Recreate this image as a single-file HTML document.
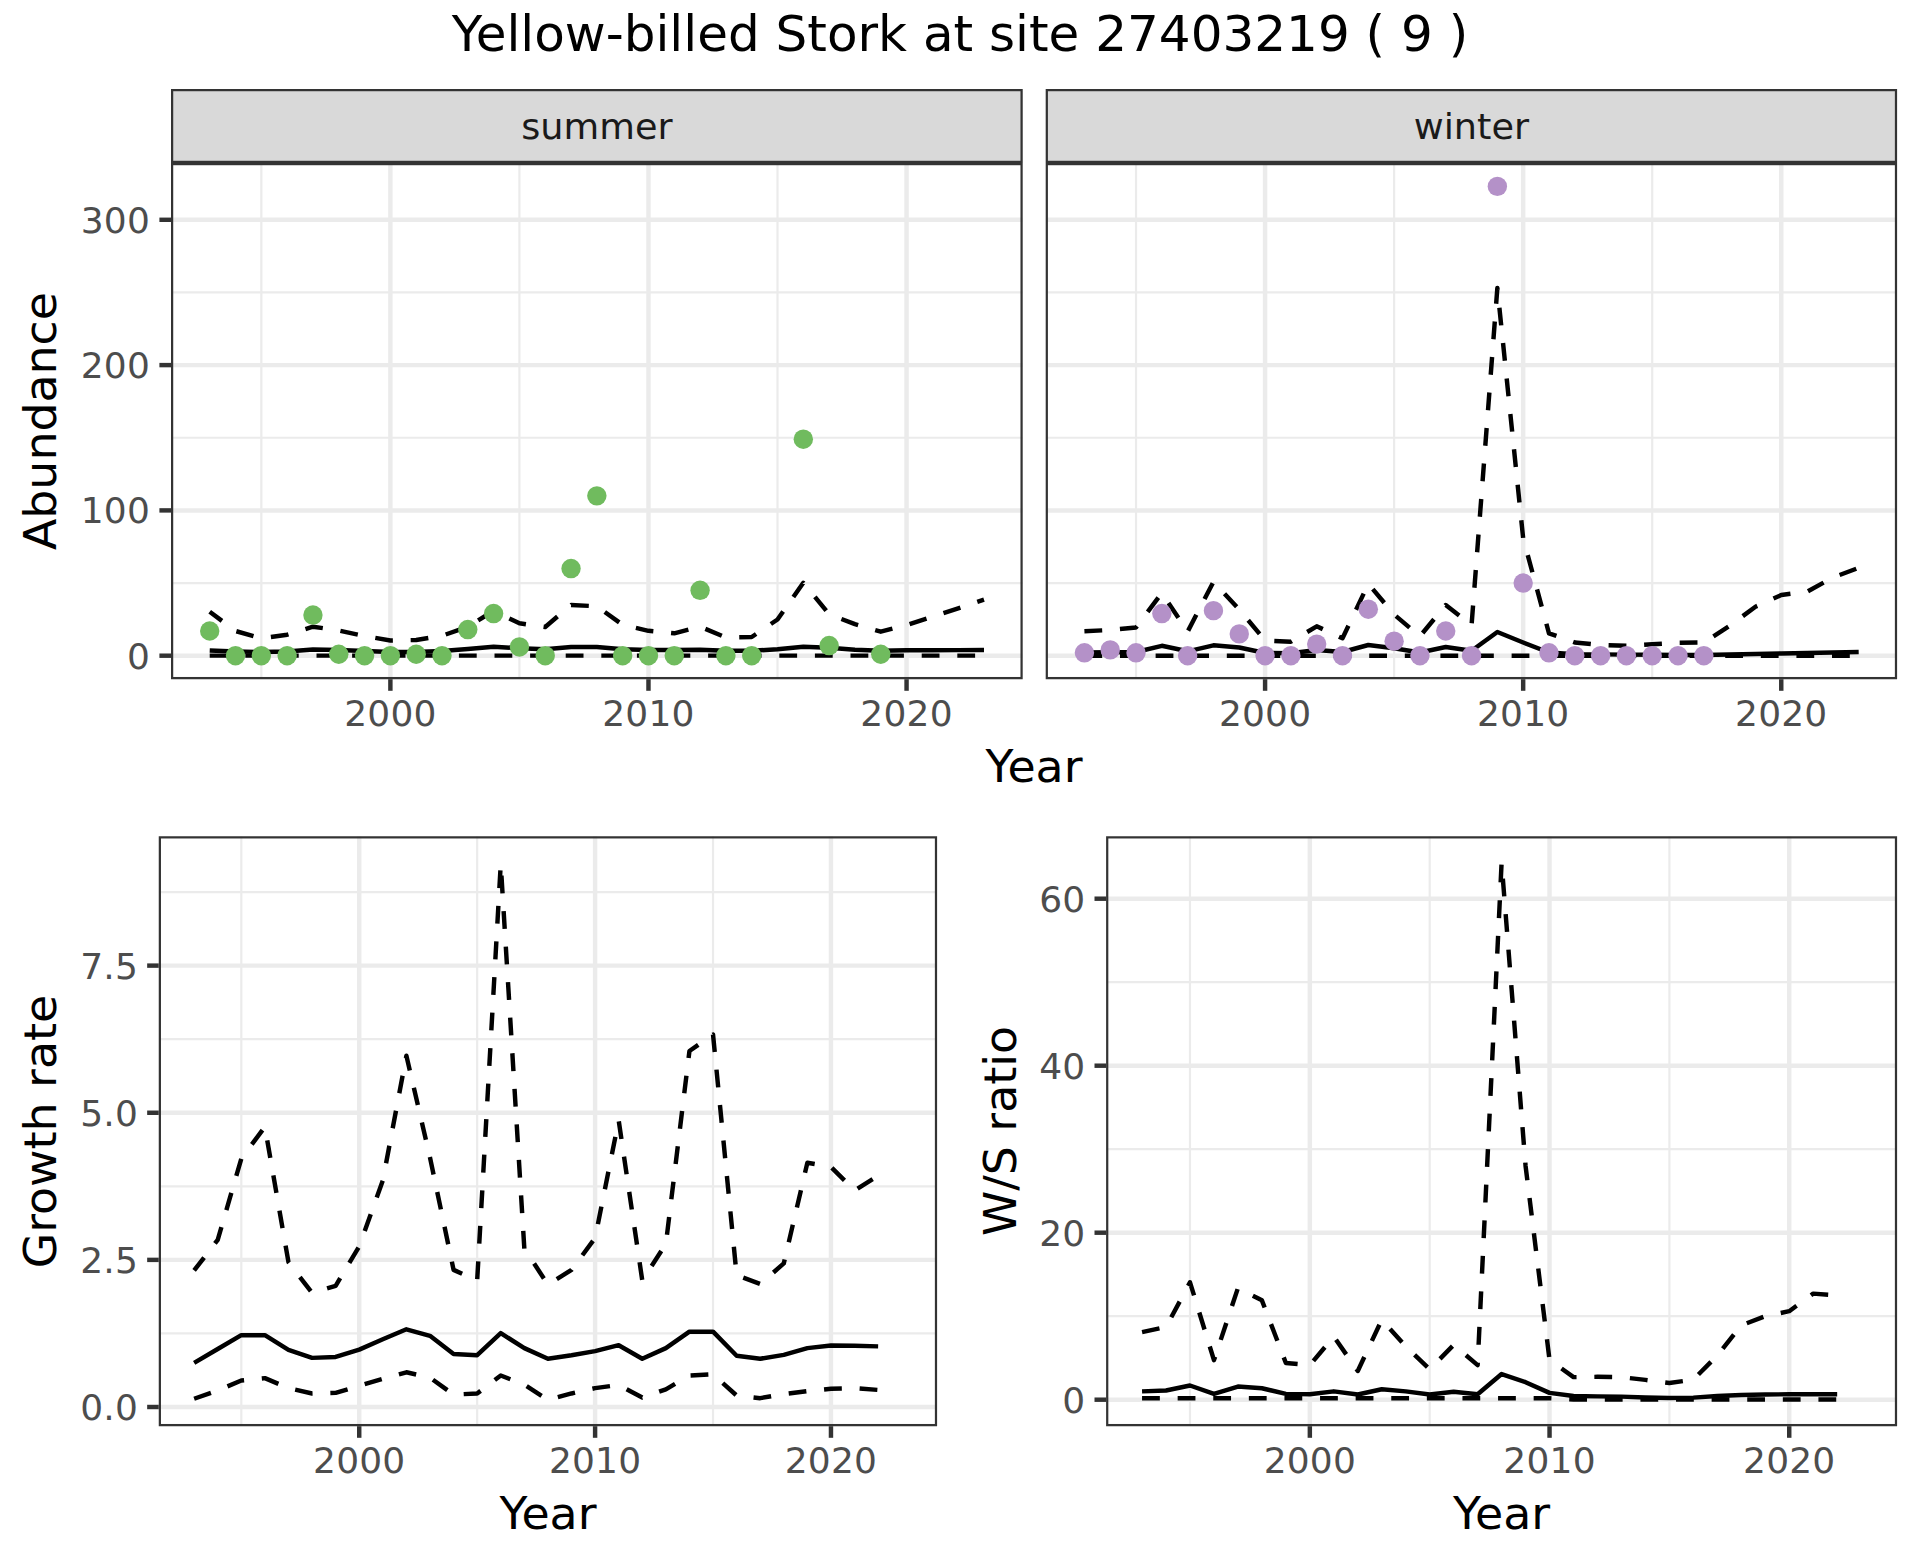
<!DOCTYPE html>
<html lang="en">
<head>
<meta charset="utf-8">
<title>Yellow-billed Stork at site 27403219</title>
<style>
html,body{margin:0;padding:0;background:#fff;}
body{width:1920px;height:1560px;overflow:hidden;}
svg{display:block;}
</style>
</head>
<body>
<svg width="1920" height="1560" viewBox="0 0 1920 1560" font-family='"DejaVu Sans", "Liberation Sans", sans-serif'>
<rect width="1920" height="1560" fill="#fff"/>
<text x="960" y="50.9" font-size="50.0" fill="#000" text-anchor="middle">Yellow-billed Stork at site 27403219 ( 9 )</text>
<clipPath id="c1"><rect x="171" y="163" width="851.7" height="516.2"/></clipPath>
<g clip-path="url(#c1)">
<rect x="171" y="163" width="851.7" height="516.2" fill="#fff"/>
<line x1="171" x2="1022.7" y1="583.05" y2="583.05" stroke="#EBEBEB" stroke-width="2.2"/>
<line x1="171" x2="1022.7" y1="437.75" y2="437.75" stroke="#EBEBEB" stroke-width="2.2"/>
<line x1="171" x2="1022.7" y1="292.45" y2="292.45" stroke="#EBEBEB" stroke-width="2.2"/>
<line x1="261.33" x2="261.33" y1="163" y2="679.2" stroke="#EBEBEB" stroke-width="2.2"/>
<line x1="519.42" x2="519.42" y1="163" y2="679.2" stroke="#EBEBEB" stroke-width="2.2"/>
<line x1="777.51" x2="777.51" y1="163" y2="679.2" stroke="#EBEBEB" stroke-width="2.2"/>
<line x1="171" x2="1022.7" y1="655.7" y2="655.7" stroke="#EBEBEB" stroke-width="4.45"/>
<line x1="171" x2="1022.7" y1="510.4" y2="510.4" stroke="#EBEBEB" stroke-width="4.45"/>
<line x1="171" x2="1022.7" y1="365.1" y2="365.1" stroke="#EBEBEB" stroke-width="4.45"/>
<line x1="171" x2="1022.7" y1="219.8" y2="219.8" stroke="#EBEBEB" stroke-width="4.45"/>
<line x1="390.38" x2="390.38" y1="163" y2="679.2" stroke="#EBEBEB" stroke-width="4.45"/>
<line x1="648.47" x2="648.47" y1="163" y2="679.2" stroke="#EBEBEB" stroke-width="4.45"/>
<line x1="906.56" x2="906.56" y1="163" y2="679.2" stroke="#EBEBEB" stroke-width="4.45"/>
<path d="M209.71 650.5 L235.52 651.5 L261.33 652 L287.14 651.5 L312.95 649.5 L338.76 650 L364.57 651 L390.38 652 L416.19 652 L442 651 L467.8 649 L493.61 646.7 L519.42 648.3 L545.23 649.2 L571.04 647 L596.85 647 L622.66 649.2 L648.47 650 L674.28 650 L700.09 649.7 L725.9 650.8 L751.7 650.8 L777.51 649.2 L803.32 646.7 L829.13 647.8 L854.94 649.7 L880.75 650.8 L906.56 650.3 L932.37 650.2 L958.18 650.1 L983.99 650" fill="none" stroke="#000" stroke-width="4.45" stroke-linejoin="round" stroke-linecap="butt"/><path d="M209.71 655.6 L235.52 655.6 L261.33 655.6 L287.14 655.6 L312.95 655.6 L338.76 655.6 L364.57 655.6 L390.38 655.6 L416.19 655.6 L442 655.6 L467.8 655.6 L493.61 655.6 L519.42 655.6 L545.23 655.6 L571.04 655.6 L596.85 655.6 L622.66 655.6 L648.47 655.6 L674.28 655.6 L700.09 655.6 L725.9 655.6 L751.7 655.6 L777.51 655.6 L803.32 655.6 L829.13 655.6 L854.94 655.6 L880.75 655.6 L906.56 655.6 L932.37 655.6 L958.18 655.6 L983.99 655.6" fill="none" stroke="#000" stroke-width="4.45" stroke-linejoin="round" stroke-linecap="butt" stroke-dasharray="17.8 17.8" stroke-dashoffset="0"/><path d="M209.71 611.7 L235.52 631 L261.33 638.3 L287.14 634.7 L312.95 626.7 L338.76 630.5 L364.57 636 L390.38 640.5 L416.19 640 L442 635.8 L467.8 626.7 L493.61 610.8 L519.42 623.3 L545.23 627 L571.04 605 L596.85 606.3 L622.66 624.8 L648.47 630.8 L674.28 633.3 L700.09 626.7 L725.9 637.5 L751.7 637 L777.51 619.5 L803.32 582.8 L829.13 614.3 L854.94 624.2 L880.75 631.7 L906.56 625 L932.37 616.7 L958.18 608.3 L983.99 599.7" fill="none" stroke="#000" stroke-width="4.45" stroke-linejoin="round" stroke-linecap="butt" stroke-dasharray="17.8 17.8" stroke-dashoffset="2.5"/><circle cx="209.71" cy="631" r="9.7" fill="#70BB5E"/><circle cx="235.52" cy="655.7" r="9.7" fill="#70BB5E"/><circle cx="261.33" cy="655.7" r="9.7" fill="#70BB5E"/><circle cx="287.14" cy="655.7" r="9.7" fill="#70BB5E"/><circle cx="312.95" cy="615.02" r="9.7" fill="#70BB5E"/><circle cx="338.76" cy="654.25" r="9.7" fill="#70BB5E"/><circle cx="364.57" cy="655.7" r="9.7" fill="#70BB5E"/><circle cx="390.38" cy="655.7" r="9.7" fill="#70BB5E"/><circle cx="416.19" cy="654.25" r="9.7" fill="#70BB5E"/><circle cx="442" cy="655.7" r="9.7" fill="#70BB5E"/><circle cx="467.8" cy="629.55" r="9.7" fill="#70BB5E"/><circle cx="493.61" cy="613.56" r="9.7" fill="#70BB5E"/><circle cx="519.42" cy="646.98" r="9.7" fill="#70BB5E"/><circle cx="545.23" cy="655.7" r="9.7" fill="#70BB5E"/><circle cx="571.04" cy="568.52" r="9.7" fill="#70BB5E"/><circle cx="596.85" cy="495.87" r="9.7" fill="#70BB5E"/><circle cx="622.66" cy="655.7" r="9.7" fill="#70BB5E"/><circle cx="648.47" cy="655.7" r="9.7" fill="#70BB5E"/><circle cx="674.28" cy="655.7" r="9.7" fill="#70BB5E"/><circle cx="700.09" cy="590.32" r="9.7" fill="#70BB5E"/><circle cx="725.9" cy="655.7" r="9.7" fill="#70BB5E"/><circle cx="751.7" cy="655.7" r="9.7" fill="#70BB5E"/><circle cx="803.32" cy="439.2" r="9.7" fill="#70BB5E"/><circle cx="829.13" cy="645.53" r="9.7" fill="#70BB5E"/><circle cx="880.75" cy="654.25" r="9.7" fill="#70BB5E"/>
<rect x="171" y="163" width="851.7" height="516.2" fill="none" stroke="#333333" stroke-width="4.45"/>
</g>
<clipPath id="c2"><rect x="171" y="89" width="851.7" height="74"/></clipPath>
<g clip-path="url(#c2)">
<rect x="171" y="89" width="851.7" height="74" fill="#D9D9D9" stroke="#333333" stroke-width="4.45"/>
</g>
<text transform="translate(596.85 138.9) scale(1 0.955)" font-size="36.67" fill="#1A1A1A" text-anchor="middle">summer</text>
<clipPath id="c3"><rect x="1045.7" y="163" width="851.4" height="516.2"/></clipPath>
<g clip-path="url(#c3)">
<rect x="1045.7" y="163" width="851.4" height="516.2" fill="#fff"/>
<line x1="1045.7" x2="1897.1" y1="583.05" y2="583.05" stroke="#EBEBEB" stroke-width="2.2"/>
<line x1="1045.7" x2="1897.1" y1="437.75" y2="437.75" stroke="#EBEBEB" stroke-width="2.2"/>
<line x1="1045.7" x2="1897.1" y1="292.45" y2="292.45" stroke="#EBEBEB" stroke-width="2.2"/>
<line x1="1136.03" x2="1136.03" y1="163" y2="679.2" stroke="#EBEBEB" stroke-width="2.2"/>
<line x1="1394.12" x2="1394.12" y1="163" y2="679.2" stroke="#EBEBEB" stroke-width="2.2"/>
<line x1="1652.21" x2="1652.21" y1="163" y2="679.2" stroke="#EBEBEB" stroke-width="2.2"/>
<line x1="1045.7" x2="1897.1" y1="655.7" y2="655.7" stroke="#EBEBEB" stroke-width="4.45"/>
<line x1="1045.7" x2="1897.1" y1="510.4" y2="510.4" stroke="#EBEBEB" stroke-width="4.45"/>
<line x1="1045.7" x2="1897.1" y1="365.1" y2="365.1" stroke="#EBEBEB" stroke-width="4.45"/>
<line x1="1045.7" x2="1897.1" y1="219.8" y2="219.8" stroke="#EBEBEB" stroke-width="4.45"/>
<line x1="1265.08" x2="1265.08" y1="163" y2="679.2" stroke="#EBEBEB" stroke-width="4.45"/>
<line x1="1523.17" x2="1523.17" y1="163" y2="679.2" stroke="#EBEBEB" stroke-width="4.45"/>
<line x1="1781.26" x2="1781.26" y1="163" y2="679.2" stroke="#EBEBEB" stroke-width="4.45"/>
<path d="M1084.41 652.5 L1110.22 652.2 L1136.03 652 L1161.84 645.8 L1187.65 651.3 L1213.46 645.3 L1239.27 647.5 L1265.08 653 L1290.89 653.3 L1316.7 650 L1342.5 652 L1368.31 645 L1394.12 648.3 L1419.93 652.5 L1445.74 647 L1471.55 650.8 L1497.36 632 L1523.17 642.5 L1548.98 652.5 L1574.79 654.2 L1600.6 654.4 L1626.4 654.6 L1652.21 654.8 L1678.02 655 L1703.83 655 L1729.64 654.5 L1755.45 654 L1781.26 653.5 L1807.07 653 L1832.88 652.5 L1858.69 652" fill="none" stroke="#000" stroke-width="4.45" stroke-linejoin="round" stroke-linecap="butt"/><path d="M1084.41 655.8 L1110.22 655.8 L1136.03 655.8 L1161.84 655.8 L1187.65 655.8 L1213.46 655.8 L1239.27 655.8 L1265.08 655.8 L1290.89 655.8 L1316.7 655.8 L1342.5 655.8 L1368.31 655.8 L1394.12 655.8 L1419.93 655.8 L1445.74 655.8 L1471.55 655.8 L1497.36 655.8 L1523.17 655.8 L1548.98 655.8 L1574.79 655.8 L1600.6 655.8 L1626.4 655.8 L1652.21 655.8 L1678.02 655.8 L1703.83 655.8 L1729.64 655.8 L1755.45 655.8 L1781.26 655.8 L1807.07 655.8 L1832.88 655.8 L1858.69 655.8" fill="none" stroke="#000" stroke-width="4.45" stroke-linejoin="round" stroke-linecap="butt" stroke-dasharray="17.8 17.8" stroke-dashoffset="0"/><path d="M1084.41 631.2 L1110.22 630 L1136.03 627.5 L1161.84 593 L1187.65 631.6 L1213.46 581.8 L1239.27 609.5 L1265.08 640.5 L1290.89 641.7 L1316.7 626.3 L1342.5 638.3 L1368.31 583.8 L1394.12 614.5 L1419.93 636.3 L1445.74 605 L1471.55 625.3 L1497.36 288 L1523.17 538.3 L1548.98 633.3 L1574.79 642.5 L1600.6 645 L1626.4 645.8 L1652.21 644.2 L1678.02 642.8 L1703.83 642.5 L1729.64 625.8 L1755.45 606.7 L1781.26 595 L1807.07 591.7 L1832.88 577.5 L1858.69 567.8" fill="none" stroke="#000" stroke-width="4.45" stroke-linejoin="round" stroke-linecap="butt" stroke-dasharray="17.8 17.8" stroke-dashoffset="0"/><circle cx="1084.41" cy="652.79" r="9.7" fill="#B491C8"/><circle cx="1110.22" cy="649.89" r="9.7" fill="#B491C8"/><circle cx="1136.03" cy="652.79" r="9.7" fill="#B491C8"/><circle cx="1161.84" cy="613.56" r="9.7" fill="#B491C8"/><circle cx="1187.65" cy="655.7" r="9.7" fill="#B491C8"/><circle cx="1213.46" cy="610.66" r="9.7" fill="#B491C8"/><circle cx="1239.27" cy="633.91" r="9.7" fill="#B491C8"/><circle cx="1265.08" cy="655.7" r="9.7" fill="#B491C8"/><circle cx="1290.89" cy="655.7" r="9.7" fill="#B491C8"/><circle cx="1316.7" cy="644.08" r="9.7" fill="#B491C8"/><circle cx="1342.5" cy="655.7" r="9.7" fill="#B491C8"/><circle cx="1368.31" cy="609.2" r="9.7" fill="#B491C8"/><circle cx="1394.12" cy="641.17" r="9.7" fill="#B491C8"/><circle cx="1419.93" cy="655.7" r="9.7" fill="#B491C8"/><circle cx="1445.74" cy="631" r="9.7" fill="#B491C8"/><circle cx="1471.55" cy="655.7" r="9.7" fill="#B491C8"/><circle cx="1497.36" cy="186.38" r="9.7" fill="#B491C8"/><circle cx="1523.17" cy="583.05" r="9.7" fill="#B491C8"/><circle cx="1548.98" cy="652.79" r="9.7" fill="#B491C8"/><circle cx="1574.79" cy="655.7" r="9.7" fill="#B491C8"/><circle cx="1600.6" cy="655.7" r="9.7" fill="#B491C8"/><circle cx="1626.4" cy="655.7" r="9.7" fill="#B491C8"/><circle cx="1652.21" cy="655.7" r="9.7" fill="#B491C8"/><circle cx="1678.02" cy="655.7" r="9.7" fill="#B491C8"/><circle cx="1703.83" cy="655.7" r="9.7" fill="#B491C8"/>
<rect x="1045.7" y="163" width="851.4" height="516.2" fill="none" stroke="#333333" stroke-width="4.45"/>
</g>
<clipPath id="c4"><rect x="1045.7" y="89" width="851.4" height="74"/></clipPath>
<g clip-path="url(#c4)">
<rect x="1045.7" y="89" width="851.4" height="74" fill="#D9D9D9" stroke="#333333" stroke-width="4.45"/>
</g>
<text transform="translate(1471.4 138.9) scale(1 0.955)" font-size="36.67" fill="#1A1A1A" text-anchor="middle">winter</text>
<line x1="390.38" x2="390.38" y1="679.2" y2="690.8" stroke="#333333" stroke-width="4.45"/>
<text transform="translate(390.38 725.7) scale(1 0.965)" font-size="36.0" letter-spacing="0.2" fill="#4D4D4D" text-anchor="middle">2000</text>
<line x1="648.47" x2="648.47" y1="679.2" y2="690.8" stroke="#333333" stroke-width="4.45"/>
<text transform="translate(648.47 725.7) scale(1 0.965)" font-size="36.0" letter-spacing="0.2" fill="#4D4D4D" text-anchor="middle">2010</text>
<line x1="906.56" x2="906.56" y1="679.2" y2="690.8" stroke="#333333" stroke-width="4.45"/>
<text transform="translate(906.56 725.7) scale(1 0.965)" font-size="36.0" letter-spacing="0.2" fill="#4D4D4D" text-anchor="middle">2020</text>
<line x1="1265.08" x2="1265.08" y1="679.2" y2="690.8" stroke="#333333" stroke-width="4.45"/>
<text transform="translate(1265.08 725.7) scale(1 0.965)" font-size="36.0" letter-spacing="0.2" fill="#4D4D4D" text-anchor="middle">2000</text>
<line x1="1523.17" x2="1523.17" y1="679.2" y2="690.8" stroke="#333333" stroke-width="4.45"/>
<text transform="translate(1523.17 725.7) scale(1 0.965)" font-size="36.0" letter-spacing="0.2" fill="#4D4D4D" text-anchor="middle">2010</text>
<line x1="1781.26" x2="1781.26" y1="679.2" y2="690.8" stroke="#333333" stroke-width="4.45"/>
<text transform="translate(1781.26 725.7) scale(1 0.965)" font-size="36.0" letter-spacing="0.2" fill="#4D4D4D" text-anchor="middle">2020</text>
<line x1="159.4" x2="171" y1="655.7" y2="655.7" stroke="#333333" stroke-width="4.45"/>
<text transform="translate(150 668.7) scale(1 0.965)" font-size="36.0" letter-spacing="0.2" fill="#4D4D4D" text-anchor="end">0</text>
<line x1="159.4" x2="171" y1="510.4" y2="510.4" stroke="#333333" stroke-width="4.45"/>
<text transform="translate(150 522.7) scale(1 0.965)" font-size="36.0" letter-spacing="0.2" fill="#4D4D4D" text-anchor="end">100</text>
<line x1="159.4" x2="171" y1="365.1" y2="365.1" stroke="#333333" stroke-width="4.45"/>
<text transform="translate(150 377.7) scale(1 0.965)" font-size="36.0" letter-spacing="0.2" fill="#4D4D4D" text-anchor="end">200</text>
<line x1="159.4" x2="171" y1="219.8" y2="219.8" stroke="#333333" stroke-width="4.45"/>
<text transform="translate(150 232.7) scale(1 0.965)" font-size="36.0" letter-spacing="0.2" fill="#4D4D4D" text-anchor="end">300</text>
<text transform="translate(1034 782) scale(1 0.975)" font-size="45.83" fill="#000" text-anchor="middle">Year</text>
<text transform="translate(55.7 421.05) rotate(-90) scale(1 0.975)" font-size="45.83" fill="#000" text-anchor="middle">Abundance</text>
<clipPath id="c5"><rect x="158.75" y="836.25" width="778.35" height="589.95"/></clipPath>
<g clip-path="url(#c5)">
<rect x="158.75" y="836.25" width="778.35" height="589.95" fill="#fff"/>
<line x1="158.75" x2="937.1" y1="1333.44" y2="1333.44" stroke="#EBEBEB" stroke-width="2.2"/>
<line x1="158.75" x2="937.1" y1="1186.31" y2="1186.31" stroke="#EBEBEB" stroke-width="2.2"/>
<line x1="158.75" x2="937.1" y1="1039.19" y2="1039.19" stroke="#EBEBEB" stroke-width="2.2"/>
<line x1="158.75" x2="937.1" y1="892.06" y2="892.06" stroke="#EBEBEB" stroke-width="2.2"/>
<line x1="241.3" x2="241.3" y1="836.25" y2="1426.2" stroke="#EBEBEB" stroke-width="2.2"/>
<line x1="477.17" x2="477.17" y1="836.25" y2="1426.2" stroke="#EBEBEB" stroke-width="2.2"/>
<line x1="713.03" x2="713.03" y1="836.25" y2="1426.2" stroke="#EBEBEB" stroke-width="2.2"/>
<line x1="158.75" x2="937.1" y1="1407" y2="1407" stroke="#EBEBEB" stroke-width="4.45"/>
<line x1="158.75" x2="937.1" y1="1259.88" y2="1259.88" stroke="#EBEBEB" stroke-width="4.45"/>
<line x1="158.75" x2="937.1" y1="1112.75" y2="1112.75" stroke="#EBEBEB" stroke-width="4.45"/>
<line x1="158.75" x2="937.1" y1="965.62" y2="965.62" stroke="#EBEBEB" stroke-width="4.45"/>
<line x1="359.23" x2="359.23" y1="836.25" y2="1426.2" stroke="#EBEBEB" stroke-width="4.45"/>
<line x1="595.1" x2="595.1" y1="836.25" y2="1426.2" stroke="#EBEBEB" stroke-width="4.45"/>
<line x1="830.96" x2="830.96" y1="836.25" y2="1426.2" stroke="#EBEBEB" stroke-width="4.45"/>
<path d="M194.13 1362.86 L217.72 1349.03 L241.3 1335.2 L264.89 1335.2 L288.48 1349.92 L312.06 1357.86 L335.65 1356.98 L359.23 1349.62 L382.82 1339.32 L406.41 1329.32 L429.99 1335.79 L453.58 1354.04 L477.17 1355.21 L500.75 1333.14 L524.34 1348.15 L547.92 1358.74 L571.51 1355.21 L595.1 1351.09 L618.68 1345.21 L642.27 1358.74 L665.86 1348.15 L689.44 1331.67 L713.03 1331.67 L736.62 1355.8 L760.2 1358.74 L783.79 1354.92 L807.38 1348.15 L830.96 1345.5 L854.55 1345.8 L878.13 1346.38" fill="none" stroke="#000" stroke-width="4.45" stroke-linejoin="round" stroke-linecap="butt"/><path d="M194.13 1398.76 L217.72 1390.52 L241.3 1380.52 L264.89 1378.16 L288.48 1388.17 L312.06 1393.46 L335.65 1392.88 L359.23 1385.81 L382.82 1378.75 L406.41 1372.28 L429.99 1377.58 L453.58 1394.64 L477.17 1393.46 L500.75 1375.52 L524.34 1384.64 L547.92 1399.94 L571.51 1393.46 L595.1 1388.17 L618.68 1384.93 L642.27 1397.58 L665.86 1389.35 L689.44 1375.52 L713.03 1374.34 L736.62 1395.52 L760.2 1398.17 L783.79 1394.05 L807.38 1391.11 L830.96 1388.76 L854.55 1388.17 L878.13 1389.93" fill="none" stroke="#000" stroke-width="4.45" stroke-linejoin="round" stroke-linecap="butt" stroke-dasharray="17.8 17.8" stroke-dashoffset="0"/><path d="M194.13 1270.47 L217.72 1239.87 L241.3 1158.65 L264.89 1126.87 L288.48 1262.23 L312.06 1292.83 L335.65 1285.77 L359.23 1246.34 L382.82 1180.43 L406.41 1055.67 L429.99 1157.48 L453.58 1269.88 L477.17 1280.47 L500.75 864.11 L524.34 1248.69 L547.92 1284.59 L571.51 1269.88 L595.1 1238.1 L618.68 1120.4 L642.27 1280.47 L665.86 1243.99 L689.44 1050.96 L713.03 1034.48 L736.62 1275.18 L760.2 1284 L783.79 1263.41 L807.38 1162.77 L830.96 1166.89 L854.55 1190.43 L878.13 1175.72" fill="none" stroke="#000" stroke-width="4.45" stroke-linejoin="round" stroke-linecap="butt" stroke-dasharray="17.8 17.8" stroke-dashoffset="1.5"/>
<rect x="158.75" y="836.25" width="778.35" height="589.95" fill="none" stroke="#333333" stroke-width="4.45"/>
</g>
<line x1="359.23" x2="359.23" y1="1426.2" y2="1437.8" stroke="#333333" stroke-width="4.45"/>
<text transform="translate(359.23 1473.4) scale(1 0.965)" font-size="36.0" letter-spacing="0.2" fill="#4D4D4D" text-anchor="middle">2000</text>
<line x1="595.1" x2="595.1" y1="1426.2" y2="1437.8" stroke="#333333" stroke-width="4.45"/>
<text transform="translate(595.1 1473.4) scale(1 0.965)" font-size="36.0" letter-spacing="0.2" fill="#4D4D4D" text-anchor="middle">2010</text>
<line x1="830.96" x2="830.96" y1="1426.2" y2="1437.8" stroke="#333333" stroke-width="4.45"/>
<text transform="translate(830.96 1473.4) scale(1 0.965)" font-size="36.0" letter-spacing="0.2" fill="#4D4D4D" text-anchor="middle">2020</text>
<line x1="147.15" x2="158.75" y1="1407" y2="1407" stroke="#333333" stroke-width="4.45"/>
<text transform="translate(138 1419.7) scale(1 0.965)" font-size="36.0" letter-spacing="0.2" fill="#4D4D4D" text-anchor="end">0.0</text>
<line x1="147.15" x2="158.75" y1="1259.88" y2="1259.88" stroke="#333333" stroke-width="4.45"/>
<text transform="translate(138 1272.7) scale(1 0.965)" font-size="36.0" letter-spacing="0.2" fill="#4D4D4D" text-anchor="end">2.5</text>
<line x1="147.15" x2="158.75" y1="1112.75" y2="1112.75" stroke="#333333" stroke-width="4.45"/>
<text transform="translate(138 1125.7) scale(1 0.965)" font-size="36.0" letter-spacing="0.2" fill="#4D4D4D" text-anchor="end">5.0</text>
<line x1="147.15" x2="158.75" y1="965.62" y2="965.62" stroke="#333333" stroke-width="4.45"/>
<text transform="translate(138 978.7) scale(1 0.965)" font-size="36.0" letter-spacing="0.2" fill="#4D4D4D" text-anchor="end">7.5</text>
<text transform="translate(548 1529) scale(1 0.975)" font-size="45.83" fill="#000" text-anchor="middle">Year</text>
<text transform="translate(55.5 1131.6) rotate(-90) scale(1 0.975)" font-size="45.83" fill="#000" text-anchor="middle">Growth rate</text>
<clipPath id="c6"><rect x="1106.1" y="836.25" width="791" height="589.95"/></clipPath>
<g clip-path="url(#c6)">
<rect x="1106.1" y="836.25" width="791" height="589.95" fill="#fff"/>
<line x1="1106.1" x2="1897.1" y1="1316.2" y2="1316.2" stroke="#EBEBEB" stroke-width="2.2"/>
<line x1="1106.1" x2="1897.1" y1="1149.2" y2="1149.2" stroke="#EBEBEB" stroke-width="2.2"/>
<line x1="1106.1" x2="1897.1" y1="982.2" y2="982.2" stroke="#EBEBEB" stroke-width="2.2"/>
<line x1="1189.99" x2="1189.99" y1="836.25" y2="1426.2" stroke="#EBEBEB" stroke-width="2.2"/>
<line x1="1429.69" x2="1429.69" y1="836.25" y2="1426.2" stroke="#EBEBEB" stroke-width="2.2"/>
<line x1="1669.39" x2="1669.39" y1="836.25" y2="1426.2" stroke="#EBEBEB" stroke-width="2.2"/>
<line x1="1106.1" x2="1897.1" y1="1399.7" y2="1399.7" stroke="#EBEBEB" stroke-width="4.45"/>
<line x1="1106.1" x2="1897.1" y1="1232.7" y2="1232.7" stroke="#EBEBEB" stroke-width="4.45"/>
<line x1="1106.1" x2="1897.1" y1="1065.7" y2="1065.7" stroke="#EBEBEB" stroke-width="4.45"/>
<line x1="1106.1" x2="1897.1" y1="898.7" y2="898.7" stroke="#EBEBEB" stroke-width="4.45"/>
<line x1="1309.84" x2="1309.84" y1="836.25" y2="1426.2" stroke="#EBEBEB" stroke-width="4.45"/>
<line x1="1549.54" x2="1549.54" y1="836.25" y2="1426.2" stroke="#EBEBEB" stroke-width="4.45"/>
<line x1="1789.24" x2="1789.24" y1="836.25" y2="1426.2" stroke="#EBEBEB" stroke-width="4.45"/>
<path d="M1142.05 1391.35 L1166.02 1390.52 L1189.99 1385.51 L1213.96 1393.86 L1237.93 1386.59 L1261.9 1388.26 L1285.87 1393.86 L1309.84 1394.27 L1333.81 1391.35 L1357.78 1394.52 L1381.75 1389.26 L1405.72 1391.35 L1429.69 1394.52 L1453.66 1391.77 L1477.63 1394.27 L1501.6 1374.07 L1525.57 1382.16 L1549.54 1392.85 L1573.51 1395.94 L1597.48 1396.36 L1621.45 1396.61 L1645.42 1397.45 L1669.39 1398.03 L1693.36 1397.61 L1717.33 1395.94 L1741.3 1394.94 L1765.27 1394.52 L1789.24 1394.27 L1813.21 1394.27 L1837.18 1394.27" fill="none" stroke="#000" stroke-width="4.45" stroke-linejoin="round" stroke-linecap="butt"/><path d="M1142.05 1398.28 L1166.02 1398.28 L1189.99 1398.28 L1213.96 1398.28 L1237.93 1398.28 L1261.9 1398.28 L1285.87 1398.28 L1309.84 1398.28 L1333.81 1398.28 L1357.78 1398.28 L1381.75 1398.28 L1405.72 1398.28 L1429.69 1398.28 L1453.66 1398.28 L1477.63 1398.28 L1501.6 1398.28 L1525.57 1398.28 L1549.54 1398.28 L1573.51 1399.45 L1597.48 1399.45 L1621.45 1399.45 L1645.42 1399.45 L1669.39 1399.45 L1693.36 1399.45 L1717.33 1399.45 L1741.3 1399.45 L1765.27 1399.45 L1789.24 1399.45 L1813.21 1399.45 L1837.18 1399.45" fill="none" stroke="#000" stroke-width="4.45" stroke-linejoin="round" stroke-linecap="butt" stroke-dasharray="17.8 17.8" stroke-dashoffset="0"/><path d="M1142.05 1332.07 L1166.02 1327.06 L1189.99 1282.32 L1213.96 1360.1 L1237.93 1288.16 L1261.9 1300.34 L1285.87 1362.96 L1309.84 1365.11 L1333.81 1336.59 L1357.78 1370.96 L1381.75 1319.89 L1405.72 1346.26 L1429.69 1369.29 L1453.66 1344.94 L1477.63 1365.11 L1501.6 862.8 L1525.57 1165.9 L1549.54 1359.95 L1573.51 1377.15 L1597.48 1376.82 L1621.45 1377.15 L1645.42 1379.91 L1669.39 1383 L1693.36 1379.66 L1717.33 1355.45 L1741.3 1325.38 L1765.27 1316.2 L1789.24 1311.19 L1813.21 1293.65 L1837.18 1295.33" fill="none" stroke="#000" stroke-width="4.45" stroke-linejoin="round" stroke-linecap="butt" stroke-dasharray="17.8 17.8" stroke-dashoffset="0"/>
<rect x="1106.1" y="836.25" width="791" height="589.95" fill="none" stroke="#333333" stroke-width="4.45"/>
</g>
<line x1="1309.84" x2="1309.84" y1="1426.2" y2="1437.8" stroke="#333333" stroke-width="4.45"/>
<text transform="translate(1309.84 1473.4) scale(1 0.965)" font-size="36.0" letter-spacing="0.2" fill="#4D4D4D" text-anchor="middle">2000</text>
<line x1="1549.54" x2="1549.54" y1="1426.2" y2="1437.8" stroke="#333333" stroke-width="4.45"/>
<text transform="translate(1549.54 1473.4) scale(1 0.965)" font-size="36.0" letter-spacing="0.2" fill="#4D4D4D" text-anchor="middle">2010</text>
<line x1="1789.24" x2="1789.24" y1="1426.2" y2="1437.8" stroke="#333333" stroke-width="4.45"/>
<text transform="translate(1789.24 1473.4) scale(1 0.965)" font-size="36.0" letter-spacing="0.2" fill="#4D4D4D" text-anchor="middle">2020</text>
<line x1="1094.5" x2="1106.1" y1="1399.7" y2="1399.7" stroke="#333333" stroke-width="4.45"/>
<text transform="translate(1085.4 1412.7) scale(1 0.965)" font-size="36.0" letter-spacing="0.2" fill="#4D4D4D" text-anchor="end">0</text>
<line x1="1094.5" x2="1106.1" y1="1232.7" y2="1232.7" stroke="#333333" stroke-width="4.45"/>
<text transform="translate(1085.4 1245.7) scale(1 0.965)" font-size="36.0" letter-spacing="0.2" fill="#4D4D4D" text-anchor="end">20</text>
<line x1="1094.5" x2="1106.1" y1="1065.7" y2="1065.7" stroke="#333333" stroke-width="4.45"/>
<text transform="translate(1085.4 1078.7) scale(1 0.965)" font-size="36.0" letter-spacing="0.2" fill="#4D4D4D" text-anchor="end">40</text>
<line x1="1094.5" x2="1106.1" y1="898.7" y2="898.7" stroke="#333333" stroke-width="4.45"/>
<text transform="translate(1085.4 911.7) scale(1 0.965)" font-size="36.0" letter-spacing="0.2" fill="#4D4D4D" text-anchor="end">60</text>
<text transform="translate(1501.6 1529) scale(1 0.975)" font-size="45.83" fill="#000" text-anchor="middle">Year</text>
<text transform="translate(1016 1131) rotate(-90) scale(1 0.975)" font-size="45.83" fill="#000" text-anchor="middle">W/S ratio</text>
</svg>
</body>
</html>
